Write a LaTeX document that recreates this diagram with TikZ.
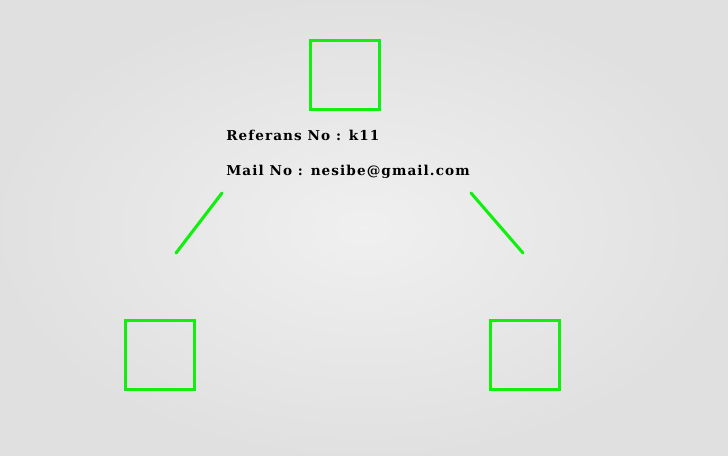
\documentclass[tikz,border=0pt]{standalone}
\usepackage{fontspec}
\setmainfont{DejaVu Serif}
\definecolor{boxgreen}{RGB}{15,240,15}
\tikzset{
  box/.style={draw=boxgreen,line width=2.3pt,minimum size=51.5pt,inner sep=0pt},
  link/.style={draw=boxgreen,line width=2.3pt,line cap=round},
  info/.style={font=\bfseries\fontsize{10.2pt}{12pt}\selectfont\addfontfeature{LetterSpace=8},anchor=base west,inner sep=0pt}
}
\begin{document}
\begin{tikzpicture}[x=0.75pt,y=-0.75pt]
    % background
    \shade[inner color=black!6,outer color=black!12] (0,0) rectangle (728,455);
    \useasboundingbox (0,0) rectangle (728,455);

    \node (top)   [box] at (345,75)  {};
    \node (left)  [box] at (160,355) {};
    \node (right) [box] at (525,355) {};

    \node (ref)  [info] at (226,140.5) {Referans No : k11};
    \node (mail) [info] at (226,175)   {Mail No : nesibe@gmail.com};

    \coordinate (l1) at (222,193);
    \coordinate (l2) at (176,253);
    \coordinate (r1) at (471,193);
    \coordinate (r2) at (523,253);

    \draw[link] (l1) -- (l2);
    \draw[link] (r1) -- (r2);
\end{tikzpicture}
\end{document}
